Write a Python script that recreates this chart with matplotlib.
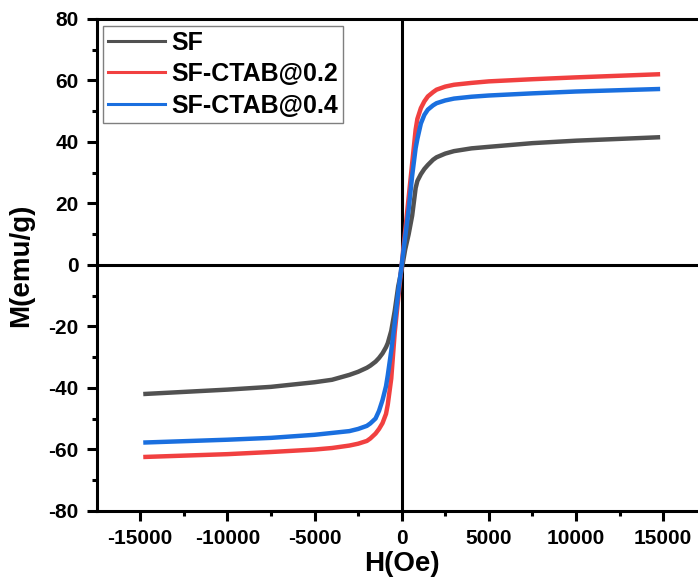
import matplotlib
matplotlib.use('Agg')
import matplotlib.pyplot as plt

plt.rcParams['font.family'] = ['Liberation Sans', 'DejaVu Sans']
plt.rcParams['font.weight'] = 'bold'
plt.rcParams['axes.unicode_minus'] = False

# field values (Oe)
H = [-14700, -10000, -7500, -5000, -4000, -3000, -2500, -2000, -1800, -1500, -1300,
     -1100, -900, -800, -600, -400, -200, 0, 200, 400, 600, 800, 900, 1100, 1300,
     1500, 1800, 2000, 2500, 3000, 4000, 5000, 7500, 10000, 14700]

# magnetization (emu/g)
M_sf = [-42.0, -40.6, -39.7, -38.2, -37.4, -35.8, -34.8, -33.5, -32.8, -31.5, -30.3,
        -28.8, -26.8, -25.5, -21.5, -15.0, -7.0, -1.5, 5.0, 10.0, 16.0, 25.0, 27.3,
        29.5, 31.2, 32.5, 34.2, 35.0, 36.2, 37.0, 37.9, 38.4, 39.6, 40.4, 41.5]
M_02 = [-62.5, -61.6, -60.9, -60.1, -59.6, -58.8, -58.2, -57.3, -56.5, -54.9, -53.4,
        -51.5, -48.5, -45.5, -37.0, -22.0, -11.0, 0.0, 11.0, 22.0, 33.0, 44.0, 47.5,
        51.0, 53.2, 54.8, 56.2, 57.0, 58.0, 58.6, 59.2, 59.7, 60.4, 61.0, 62.0]
M_04 = [-57.8, -56.9, -56.3, -55.3, -54.7, -54.1, -53.4, -52.4, -51.6, -50.0, -47.5,
        -44.0, -39.5, -36.0, -28.0, -19.0, -9.0, 0.0, 9.0, 18.0, 29.0, 38.0, 41.0,
        46.0, 48.8, 50.5, 51.9, 52.6, 53.5, 54.1, 54.7, 55.1, 55.8, 56.4, 57.2]

labels = ['SF', 'SF-CTAB@0.2', 'SF-CTAB@0.4']
colors = ['#515151', '#F14040', '#1A6FDF']

fig = plt.figure(figsize=(6.98, 5.84), dpi=100)
ax = fig.add_axes([0.1385, 0.1255, 0.874, 0.842])

ax.axhline(0, color='black', lw=2.2, zorder=1)
ax.axvline(0, color='black', lw=2.2, zorder=1)

for m, lab, c in zip([M_sf, M_02, M_04], labels, colors):
    ax.plot(H, m, color=c, lw=3.2, label=lab, zorder=3)

ax.set_xlim(-17500, 17500)
ax.set_ylim(-80, 80)
ax.set_xticks([-15000, -10000, -5000, 0, 5000, 10000, 15000])
ax.set_xticks([-12500, -7500, -2500, 2500, 7500, 12500], minor=True)
ax.set_yticks(range(-80, 81, 20))
ax.set_yticks(range(-70, 80, 20), minor=True)

for s in ax.spines.values():
    s.set_linewidth(2.2)
ax.tick_params(which='major', direction='out', length=7, width=2.2, labelsize=15, pad=6)
ax.tick_params(which='minor', direction='out', length=3.5, width=2.2)

ax.set_xlabel('H(Oe)', fontsize=20, fontweight='bold', labelpad=2)
ax.set_ylabel('M(emu/g)', fontsize=20, fontweight='bold', labelpad=10)

leg = ax.legend(loc='upper left', bbox_to_anchor=(0.0103, 0.9864), borderaxespad=0,
                fontsize=18, handlelength=2.3, handletextpad=0.25, labelspacing=0.3,
                borderpad=0.2, fancybox=False, framealpha=1)
leg.get_frame().set_edgecolor('#7f7f7f')
leg.get_frame().set_linewidth(1.0)
for t in leg.get_texts():
    t.set_fontweight('bold')
for l in leg.get_lines():
    l.set_linewidth(2.2)

fig.savefig('out.png', dpi=100)
